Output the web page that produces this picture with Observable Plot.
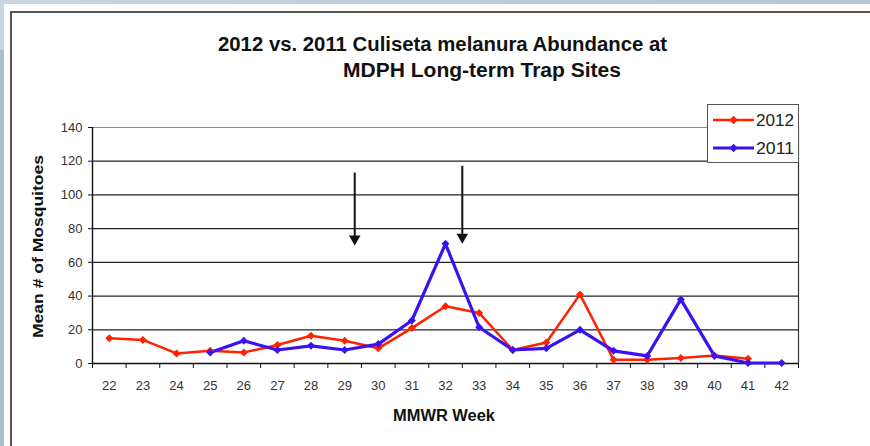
<!DOCTYPE html>
<html>
<head>
<meta charset="utf-8">
<script src="https://cdn.jsdelivr.net/npm/d3@7"></script>
<script src="https://cdn.jsdelivr.net/npm/@observablehq/plot@0.6"></script>
<style>
  html, body { margin: 0; padding: 0; background: #fff; }
  #page { position: relative; width: 870px; height: 446px; overflow: hidden; font-family: Arial, "Liberation Sans", sans-serif; }
  .deco { position: absolute; }
  #chart { position: absolute; left: 0; top: 0; }
  #labels { position: absolute; left: 0; top: 0; pointer-events: none; }
  #legend { position: absolute; left: 707px; top: 104px; width: 90px; height: 57px; border: 1px solid #555; background: #fff; }
</style>
</head>
<body>
<div id="page">
  <div class="deco" style="left:0;top:0;width:870px;height:4px;background:linear-gradient(90deg,#c9d6e0,#b3c6d5);"></div>
  <div class="deco" style="left:0;top:0;width:4px;height:446px;background:linear-gradient(180deg,#c9d6e0 0,#c9d6e0 50px,#a9bdcc 50px,#a9bdcc 100%);"></div>
  <div class="deco" style="left:10px;top:11px;width:860px;height:2px;background:#555;"></div>
  <div class="deco" style="left:10px;top:11px;width:2px;height:435px;background:#555;"></div>
  <div id="chart"></div>
  <svg id="labels" width="870" height="446"></svg>
  <div id="legend"></div>
</div>
<script>
// MMWR weeks shown on the x axis
const weeks = [22, 23, 24, 25, 26, 27, 28, 29, 30, 31, 32, 33, 34, 35, 36, 37, 38, 39, 40, 41, 42];
const yTicks = [0, 20, 40, 60, 80, 100, 120, 140];

// Mean number of Culiseta melanura per trap, 2012 season
const weeks2012 = [22, 23, 24, 25, 26, 27, 28, 29, 30, 31, 32, 33, 34, 35, 36, 37, 38, 39, 40, 41];
const values2012 = [15, 14, 6, 7.5, 6.5, 11, 16.5, 13.5, 9, 21, 34, 30, 8, 12.5, 41, 2.2, 2.2, 3.2, 4.7, 2.8];

// Mean number of Culiseta melanura per trap, 2011 season
const weeks2011 = [25, 26, 27, 28, 29, 30, 31, 32, 33, 34, 35, 36, 37, 38, 39, 40, 41, 42];
const values2011 = [6.5, 13.5, 8, 10.5, 8, 11.5, 25.5, 71, 21.5, 8, 9, 20, 7.5, 4.5, 38, 4.5, 0.3, 0.3];

// Annotation arrows (week position, start value, tip value)
const arrowWeeks = [29.3, 32.5];
const arrowTops = [113, 117];
const arrowTips = [71, 72];

const series = [
  {name: "2012", color: "#ff2200", width: 2.5, weeks: weeks2012, values: values2012},
  {name: "2011", color: "#3a12f2", width: 3.2, weeks: weeks2011, values: values2011}
];
const rows = series.flatMap(s => s.weeks.map((w, i) => ({series: s.name, week: w, value: s.values[i]})));
const arrows = arrowWeeks.map((w, i) => ({week: w, top: arrowTops[i], tip: arrowTips[i]}));
const boundaries = [...weeks.map(w => w - 0.5), weeks[weeks.length - 1] + 0.5];

const font = 'Arial, "Liberation Sans", sans-serif';

const chart = Plot.plot({
  width: 870,
  height: 446,
  marginLeft: 92,
  marginRight: 72,
  marginTop: 127,
  marginBottom: 83,
  x: {type: "linear", domain: [21.5, 42.5]},
  y: {domain: [0, 140]},
  style: {background: "transparent", fontFamily: font, fontSize: "13px", color: "#333"},
  marks: [
    Plot.ruleY(yTicks.filter(v => v > 0 && v < 140), {stroke: "#222", strokeWidth: 1.2}),
    Plot.ruleY([140], {stroke: "#8c8c8c", strokeWidth: 1.2}),
    Plot.ruleX([42.5], {stroke: "#333", strokeWidth: 1.2}),
    Plot.ruleX([21.5], {stroke: "#111", strokeWidth: 1.4}),
    Plot.ruleY([0], {stroke: "#111", strokeWidth: 1.4}),
    Plot.axisY({ticks: yTicks, tickSize: 4, tickPadding: 6, label: null, stroke: "#111"}),
    Plot.axisX({ticks: boundaries, tickSize: 5, tickFormat: () => "", label: null, stroke: "#111"}),
    Plot.axisX({ticks: weeks, tickSize: 0, tickPadding: 17, label: null}),
    Plot.ruleX(arrows, {x: "week", y1: "top", y2: d => d.tip + 4, stroke: "#111", strokeWidth: 2}),
    Plot.dot(arrows, {x: "week", y: d => d.tip + 3, symbol: "triangle2", r: 5.5, fill: "#111", rotate: 180}),
    Plot.line(rows, {x: "week", y: "value", z: "series", stroke: d => d.series === "2012" ? series[0].color : series[1].color, strokeWidth: d => d.series === "2012" ? 2.5 : 3.2}),
    Plot.dot(rows, {x: "week", y: "value", symbol: "diamond2", r: 3.6, fill: d => d.series === "2012" ? series[0].color : series[1].color})
  ]
});
document.getElementById("chart").appendChild(chart);

// Titles and axis titles
const svg = d3.select("#labels");
const addText = (txt, x, y, len, size, opts = {}) => {
  const t = svg.append("text")
    .attr("x", x).attr("y", y)
    .attr("font-family", font).attr("font-size", size).attr("font-weight", "bold")
    .attr("fill", "#111")
    .attr("textLength", len).attr("lengthAdjust", "spacingAndGlyphs")
    .text(txt);
  if (opts.transform) t.attr("transform", opts.transform);
  return t;
};
addText("2012 vs. 2011 Culiseta melanura Abundance at", 218, 51, 449, 20);
addText("MDPH Long-term Trap Sites", 343, 77, 278, 20);
addText("MMWR Week", 393, 421, 102, 16);
addText("Mean # of Mosquitoes", 0, 0, 183, 15, {transform: "translate(43,338) rotate(-90)"});

// Legend
const leg = d3.select("#legend").append("svg").attr("width", 90).attr("height", 57);
series.forEach((s, i) => {
  const cy = 15 + i * 28;
  leg.append("line").attr("x1", 5).attr("x2", 46).attr("y1", cy).attr("y2", cy)
    .attr("stroke", s.color).attr("stroke-width", s.width);
  leg.append("path").attr("d", d3.symbol(d3.symbolDiamond2, 46)())
    .attr("transform", `translate(25.5,${cy})`).attr("fill", s.color);
  leg.append("text").attr("x", 48).attr("y", cy + 6).attr("font-family", font)
    .attr("font-size", 16).attr("fill", "#222").attr("textLength", 38).attr("lengthAdjust", "spacingAndGlyphs").text(s.name);
});
</script>
</body>
</html>
